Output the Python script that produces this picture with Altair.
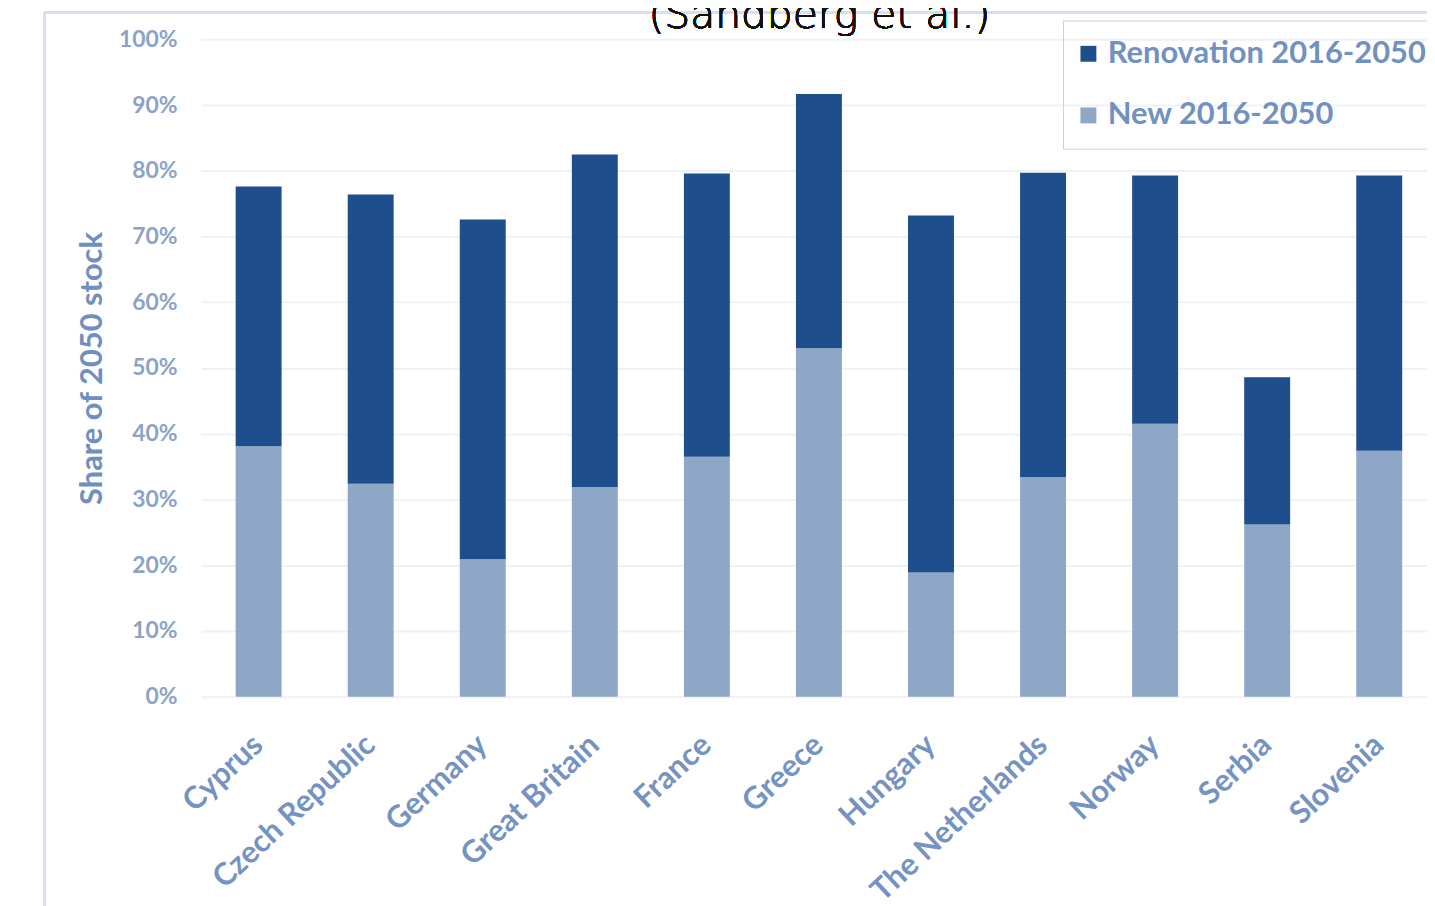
import altair as alt
import pandas as pd

countries = ["Cyprus", "Czech Republic", "Germany", "Great Britain", "France", "Greece",
             "Hungary", "The Netherlands", "Norway", "Serbia", "Slovenia"]
new_vals = [0.381, 0.324, 0.209, 0.319, 0.365, 0.530, 0.189, 0.334, 0.415, 0.262, 0.374]
reno_vals = [0.395, 0.440, 0.517, 0.506, 0.431, 0.387, 0.543, 0.463, 0.378, 0.224, 0.419]
series = ["Renovation 2016-2050", "New 2016-2050"]
colors = ["#1f4e8c", "#8ea7c7"]
y_ticks = [0, 0.1, 0.2, 0.3, 0.4, 0.5, 0.6, 0.7, 0.8, 0.9, 1.0]

rows = []
for c, n, r in zip(countries, new_vals, reno_vals):
    rows.append({"country": c, "series": series[1], "value": n, "ord": 0})
    rows.append({"country": c, "series": series[0], "value": r, "ord": 1})
df = pd.DataFrame(rows)

FONT = "Lato"

bars = alt.Chart(df).mark_bar().encode(
    x=alt.X("country:N", sort=countries,
            scale=alt.Scale(paddingInner=0.59, paddingOuter=0.31, range=[0, 1243]),
            axis=alt.Axis(title=None, labelAngle=317, labelAlign="right", labelBaseline="middle",
                          labelPadding=44, labelFontSize=31, labelFont=FONT, labelFontWeight="bold",
                          labelColor="#7593c2", domain=False, ticks=False, grid=False,
                          labelOverlap=False, labelLimit=500)),
    y=alt.Y("value:Q", stack="zero",
            scale=alt.Scale(domain=[0, 1], nice=False),
            axis=alt.Axis(title="Share of 2050 stock", values=y_ticks, format=".0%",
                          labelFontSize=23, labelFont=FONT, labelFontWeight="bold",
                          labelColor="#8ba3c6", labelPadding=24,
                          titleFontSize=31, titleFont=FONT, titleFontWeight="bold",
                          titleColor="#6f8fc0", titlePadding=10,
                          domain=False, ticks=False, grid=True, gridColor="#eef1f6",
                          gridWidth=2)),
    color=alt.Color("series:N", scale=alt.Scale(domain=series, range=colors),
                    legend=alt.Legend(title=None, orient="none", legendX=867, legendY=-19,
                                      symbolType="square", symbolSize=256,
                                      symbolStrokeWidth=0, labelFontSize=31, labelFont=FONT,
                                      labelFontWeight="bold", labelColor="#7191c1",
                                      strokeColor="#c5d2e6", padding=18, rowPadding=30,
                                      labelLimit=700, symbolOffset=-8)),
    order=alt.Order("ord:Q"),
)

border_top = alt.Chart(df).mark_rule(color="#d6dfec", strokeWidth=2).encode(
    x=alt.value(-157), x2=alt.value(1300), y=alt.value(-27)
)
border_left = alt.Chart(df).mark_rule(color="#d6dfec", strokeWidth=2).encode(
    x=alt.value(-157), y=alt.value(-27), y2=alt.value(900)
)
title = alt.Chart(df).mark_text(text="(Sandberg et al.)", fontSize=41, font="DejaVu Sans",
                                fontWeight=300, color="#111111", align="center",
                                baseline="alphabetic").encode(
    x=alt.value(622), y=alt.value(-11)
)

chart = alt.layer(border_top, border_left, bars, title).properties(
    width=1233, height=661,
    autosize=alt.AutoSizeParams(type="none"),
    padding={"left": 194, "top": 29, "right": 0, "bottom": 208},
).configure_view(stroke=None)

chart.save("out.html", embed_options={"renderer": "svg", "actions": False})
